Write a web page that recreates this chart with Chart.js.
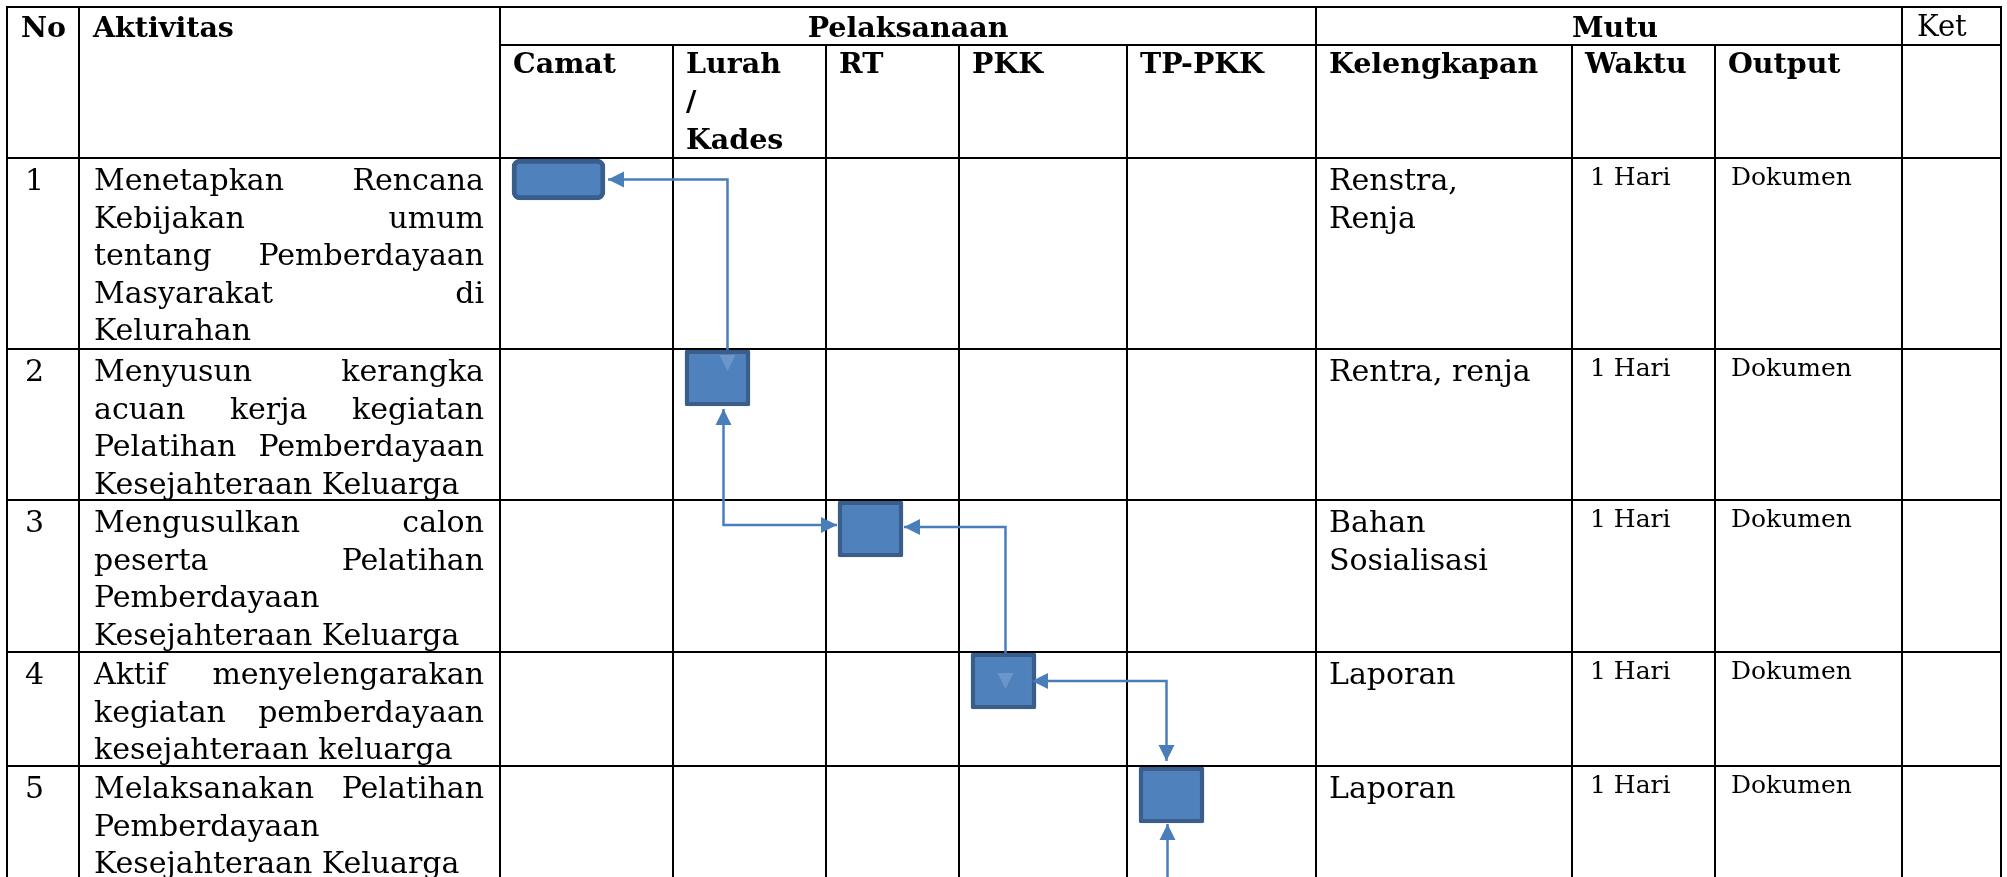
<!DOCTYPE html>
<html><head><meta charset="utf-8">
<script src="https://cdn.jsdelivr.net/npm/chart.js@4.4.1/dist/chart.umd.min.js"></script>
<style>html,body{margin:0;padding:0;background:#fff;overflow:hidden}canvas{display:block}</style>
</head><body>
<canvas id="c" width="2007" height="877"></canvas>
<script>
// ---------------- DATA ----------------
const headerTop = ['No', 'Aktivitas', 'Pelaksanaan', 'Mutu', 'Ket'];
const actors = [['Camat'], ['Lurah', '/', 'Kades'], ['RT'], ['PKK'], ['TP-PKK']];
const mutuCols = ['Kelengkapan', 'Waktu', 'Output'];
const stepNo = ['1', '2', '3', '4', '5'];
const activities = [
  ['Menetapkan Rencana', 'Kebijakan umum', 'tentang Pemberdayaan', 'Masyarakat di', 'Kelurahan'],
  ['Menyusun kerangka', 'acuan kerja kegiatan', 'Pelatihan Pemberdayaan', 'Kesejahteraan Keluarga'],
  ['Mengusulkan calon', 'peserta Pelatihan', 'Pemberdayaan', 'Kesejahteraan Keluarga'],
  ['Aktif menyelengarakan', 'kegiatan pemberdayaan', 'kesejahteraan keluarga'],
  ['Melaksanakan Pelatihan', 'Pemberdayaan', 'Kesejahteraan Keluarga']
];
const kelengkapan = [['Renstra,', 'Renja'], ['Rentra, renja'], ['Bahan', 'Sosialisasi'], ['Laporan'], ['Laporan']];
const waktu = ['1 Hari', '1 Hari', '1 Hari', '1 Hari', '1 Hari'];
const output = ['Dokumen', 'Dokumen', 'Dokumen', 'Dokumen', 'Dokumen'];
const stepActor = [0, 1, 2, 3, 4];          // which actor column carries each step
const flows = [[2, 1], [2, 3], [4, 3], [4, 5], [6, 5]]; // step -> step connectors

// ---------------- LAYOUT (scale units) ----------------
const W = 2007, H = 877;
const colEdges = [7, 79, 500, 673, 826, 959, 1127, 1316, 1572, 1715, 1902, 2001];
const rowEdges = [7, 45, 158, 349, 500, 652, 766, 1000];
const hLines = [[0, 0, 11], [1, 2, 11], [2, 0, 11], [3, 0, 11], [4, 0, 11], [5, 0, 11], [6, 0, 11]];
const vLines = [[0, 0, 7], [1, 0, 7], [2, 0, 7], [3, 1, 7], [4, 1, 7], [5, 1, 7], [6, 1, 7], [7, 0, 7], [8, 1, 7], [9, 1, 7], [10, 0, 7], [11, 0, 7]];
const boxWide = { w: 93, h: 41, r: 8, bw: 5 };
const boxStd = { w: 65, h: 56, r: 2, bw: 4.5 };
const boxInset = { dx: 12, dy: 1 };
// each connector point: [boxX, refX, dX, boxY, refY, dY]
const routing = [
  [[1, 'c', 10, 1, 't', 21], [1, 'c', 10, 0, 'c', 0], [0, 'r', 3, 0, 'c', 0]],
  [[1, 'c', 6, 1, 'b', 3], [1, 'c', 6, 2, 'c', -4], [2, 'l', -1, 2, 'c', -4]],
  [[3, 'c', 2, 3, 't', 36], [3, 'c', 2, 2, 'c', -2], [2, 'r', 1, 2, 'c', -2]],
  [[3, 'r', -4, 3, 'c', 0], [4, 'c', -5, 3, 'c', 0], [4, 'c', -5, 4, 't', -6]],
  [[4, 'c', -4, 4, 'b', 140], [4, 'c', -4, 4, 'b', 1]]
];
const FONT_HEAD = '700 28.5px "DejaVu Serif"';
const FONT_BODY = '30px "DejaVu Serif"';
const FONT_SMALL = '25px "DejaVu Serif"';
const FONT_KET = '29px "DejaVu Serif"';
const BLUE_FILL = '#4f81bd', BLUE_EDGE = '#3a5e8c', BLUE_LINE = '#4a7ebb', BLUE_FAINT = '#6b96cc';

function boxRect(i) {
  const s = i === 0 ? boxWide : boxStd;
  const l = colEdges[2 + stepActor[i]] + boxInset.dx;
  const t = rowEdges[2 + i] + boxInset.dy;
  return { l, t, r: l + s.w, b: t + s.h, cx: l + s.w / 2, cy: t + s.h / 2, w: s.w, h: s.h };
}
const boxes = stepNo.map((_, i) => boxRect(i));
function refVal(b, ref, axis) {
  const r = boxes[b];
  if (axis === 'x') return ref === 'l' ? r.l : ref === 'r' ? r.r : r.cx;
  return ref === 't' ? r.t : ref === 'b' ? r.b : r.cy;
}
const connectors = flows.map((f, k) => routing[k].map(p => ({
  x: refVal(p[0], p[1], 'x') + p[2],
  y: refVal(p[3], p[4], 'y') + p[5]
})));

// ---------------- TABLE + ARROW PLUGINS ----------------
function drawLines(ctx, line, x, right, y, justify) {
  const words = line.split(' ');
  if (!justify || words.length < 2) { ctx.fillText(line, x, y, right - x); return; }
  const ww = words.map(w => ctx.measureText(w).width);
  const total = ww.reduce((a, b) => a + b, 0);
  const gap = (right - x - total) / (words.length - 1);
  if (gap < 4) { ctx.fillText(line, x, y, right - x); return; }
  let cx = x;
  words.forEach((w, i) => { ctx.fillText(w, cx, y); cx += ww[i] + gap; });
}

const tablePlugin = {
  id: 'tableLayer',
  beforeDatasetsDraw(chart) {
    const { ctx } = chart;
    const X = v => chart.scales.x.getPixelForValue(v);
    const Y = v => chart.scales.y.getPixelForValue(v);
    ctx.save();
    ctx.strokeStyle = '#000';
    ctx.lineWidth = 2;
    ctx.lineCap = 'square';
    ctx.beginPath();
    hLines.forEach(([r, c0, c1]) => { ctx.moveTo(X(colEdges[c0]), Y(rowEdges[r])); ctx.lineTo(X(colEdges[c1]), Y(rowEdges[r])); });
    vLines.forEach(([c, r0, r1]) => { ctx.moveTo(X(colEdges[c]), Y(rowEdges[r0])); ctx.lineTo(X(colEdges[c]), Y(rowEdges[r1])); });
    ctx.stroke();

    ctx.fillStyle = '#000';
    ctx.textBaseline = 'alphabetic';
    // header row A
    ctx.font = FONT_HEAD;
    ctx.textAlign = 'left';
    ctx.fillText(headerTop[0], X(colEdges[0] + 14), Y(rowEdges[0] + 30));
    ctx.fillText(headerTop[1], X(colEdges[1] + 14), Y(rowEdges[0] + 30));
    ctx.textAlign = 'center';
    ctx.fillText(headerTop[2], X((colEdges[2] + colEdges[7]) / 2), Y(rowEdges[0] + 30));
    ctx.fillText(headerTop[3], X((colEdges[7] + colEdges[10]) / 2 + 6), Y(rowEdges[0] + 30));
    ctx.textAlign = 'left';
    ctx.font = FONT_KET;
    ctx.fillText(headerTop[4], X(colEdges[10] + 15), Y(rowEdges[0] + 29));
    // header row B
    ctx.font = FONT_HEAD;
    actors.forEach((lines, a) => lines.forEach((t, j) =>
      ctx.fillText(t, X(colEdges[2 + a] + 13), Y(rowEdges[1] + 28 + j * 38))));
    mutuCols.forEach((t, m) => ctx.fillText(t, X(colEdges[7 + m] + 13), Y(rowEdges[1] + 28)));
    // body rows
    stepNo.forEach((n, i) => {
      const top = rowEdges[2 + i];
      const base = top + 32;
      ctx.font = FONT_BODY;
      ctx.fillText(n, X(colEdges[0] + 18), Y(base));
      const act = activities[i];
      act.forEach((ln, j) => drawLines(ctx, ln, X(colEdges[1] + 15), X(colEdges[2] - 16), Y(base + j * 37.5), j < act.length - 1));
      kelengkapan[i].forEach((ln, j) => ctx.fillText(ln, X(colEdges[7] + 13), Y(base + j * 37.5)));
      ctx.font = FONT_SMALL;
      ctx.fillText(waktu[i], X(colEdges[8] + 18), Y(top + 27));
      ctx.fillText(output[i], X(colEdges[9] + 16), Y(top + 27));
    });
    ctx.restore();
  },
  afterDatasetsDraw(chart) {
    const { ctx } = chart;
    const X = v => chart.scales.x.getPixelForValue(v);
    const Y = v => chart.scales.y.getPixelForValue(v);
    const inside = (p) => boxes.some(b => p.x > X(b.l) + 5 && p.x < X(b.r) - 5 && p.y > Y(b.t) + 5 && p.y < Y(b.b) - 5);
    chart.data.datasets.forEach((ds, di) => {
      if (ds.type !== 'line') return;
      const pts = chart.getDatasetMeta(di).data;
      const ends = [[pts[0], pts[1]], [pts[pts.length - 1], pts[pts.length - 2]]];
      ends.forEach(([p, q]) => {
        const dx = p.x - q.x, dy = p.y - q.y, len = Math.hypot(dx, dy) || 1;
        const ux = dx / len, uy = dy / len, L = 16, Hw = 8;
        const bx = p.x - ux * L, by = p.y - uy * L;
        ctx.save();
        ctx.fillStyle = inside(p) ? BLUE_FAINT : BLUE_LINE;
        ctx.beginPath();
        ctx.moveTo(p.x, p.y);
        ctx.lineTo(bx - uy * Hw, by + ux * Hw);
        ctx.lineTo(bx + uy * Hw, by - ux * Hw);
        ctx.closePath();
        ctx.fill();
        ctx.restore();
      });
    });
  }
};

// ---------------- CHART ----------------
const boxData = boxes.map(b => ({ x: b.cx, y: [b.t, b.b] }));
const datasets = [
  {
    type: 'bar', label: 'Langkah 1', data: boxData.slice(0, 1), stack: 'boxes',
    barThickness: boxWide.w, borderRadius: boxWide.r, borderWidth: boxWide.bw, borderSkipped: false,
    backgroundColor: BLUE_FILL, borderColor: BLUE_EDGE, order: 0
  },
  {
    type: 'bar', label: 'Langkah 2-5', data: boxData.slice(1), stack: 'boxes',
    barThickness: boxStd.w, borderRadius: boxStd.r, borderWidth: boxStd.bw, borderSkipped: false,
    backgroundColor: BLUE_FILL, borderColor: BLUE_EDGE, order: 0
  }
].concat(connectors.map((pts, k) => ({
  type: 'line', label: 'Alur ' + flows[k].join('-'), data: pts, showLine: true,
  borderColor: BLUE_LINE, borderWidth: 2.5, pointRadius: 0, fill: false, tension: 0, order: 1
})));

new Chart(document.getElementById('c'), {
  type: 'scatter',
  data: { datasets },
  options: {
    animation: false, responsive: false, devicePixelRatio: 1, events: [],
    layout: { padding: 0 },
    plugins: { legend: { display: false }, tooltip: { enabled: false }, title: { display: false } },
    scales: {
      x: { type: 'linear', min: 0, max: W, display: false, offset: false },
      y: { type: 'linear', min: 0, max: H, reverse: true, display: false, stacked: false }
    }
  },
  plugins: [tablePlugin]
});
</script>
</body></html>
